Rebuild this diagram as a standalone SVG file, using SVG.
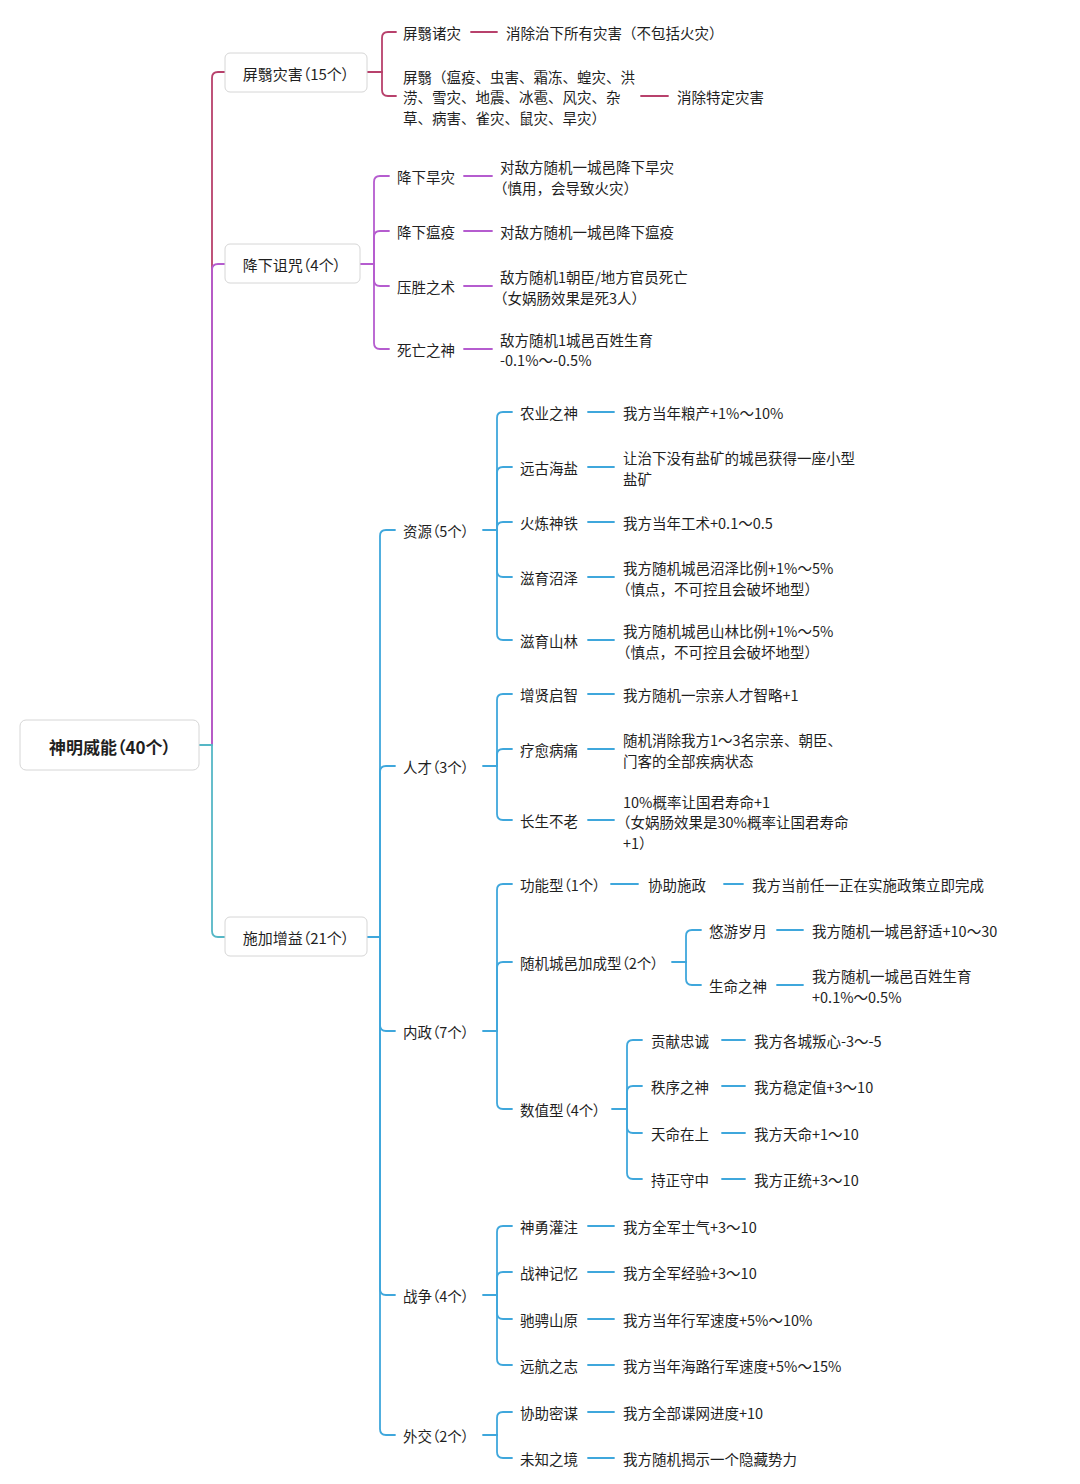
<svg xmlns="http://www.w3.org/2000/svg" width="1080" height="1484" viewBox="0 0 1080 1484">
<style>
text{font-family:"Noto Sans CJK SC","Noto Sans",sans-serif;fill:#1f1f1f;dominant-baseline:central}
.t{font-size:14.5px}
.n{font-size:14.5px;font-feature-settings:"palt"}
.l1{font-size:15px;font-feature-settings:"palt"}
.root{font-size:17px;font-weight:bold;font-feature-settings:"palt"}
.box{fill:#fff;stroke:#d6d6d6;stroke-width:1}
path{fill:none;stroke-width:1.8;stroke-linecap:round}
.c{stroke:#b8416c}
.p{stroke:#b55ccf}
.b{stroke:#3fa7dc}
.tl{stroke:#55b7c6}
</style>
<rect width="1080" height="1484" fill="#fff"/>
<g id="connectors">
<path class="c" d="M212 745 L212 78 Q212 72 218 72 L225 72"/>
<path class="p" d="M212 745 L212 270 Q212 264 218 264 L225 264"/>
<path class="tl" d="M212 745 L212 931 Q212 937 218 937 L225 937"/>
<path class="tl" d="M199 745 L212 745"/>
<path class="c" d="M367 72 L382 72"/>
<path class="c" d="M382 72 L382 38 Q382 32 388 32 L396 32"/>
<path class="c" d="M382 72 L382 90 Q382 96 388 96 L396 96"/>
<path class="c" d="M471 32 L497 32"/>
<path class="c" d="M641 96 L668 96"/>
<path class="p" d="M360 264 L374 264"/>
<path class="p" d="M374 264 L374 182 Q374 176 380 176 L389 176"/>
<path class="p" d="M374 264 L374 237 Q374 231 380 231 L389 231"/>
<path class="p" d="M374 264 L374 280 Q374 286 380 286 L389 286"/>
<path class="p" d="M374 264 L374 343 Q374 349 380 349 L389 349"/>
<path class="p" d="M464 176 L492 176"/>
<path class="p" d="M464 231 L492 231"/>
<path class="p" d="M464 286 L492 286"/>
<path class="p" d="M464 349 L492 349"/>
<path class="b" d="M367 937 L380 937"/>
<path class="b" d="M380 937 L380 536 Q380 530 386 530 L395 530"/>
<path class="b" d="M380 937 L380 772 Q380 766 386 766 L395 766"/>
<path class="b" d="M380 937 L380 1025 Q380 1031 386 1031 L395 1031"/>
<path class="b" d="M380 937 L380 1289 Q380 1295 386 1295 L395 1295"/>
<path class="b" d="M380 937 L380 1429 Q380 1435 386 1435 L395 1435"/>
<path class="b" d="M483 530 L497 530"/>
<path class="b" d="M497 530 L497 418 Q497 412 503 412 L512 412"/>
<path class="b" d="M497 530 L497 473 Q497 467 503 467 L512 467"/>
<path class="b" d="M497 530 L497 528 Q497 522 503 522 L512 522"/>
<path class="b" d="M497 530 L497 571 Q497 577 503 577 L512 577"/>
<path class="b" d="M497 530 L497 634 Q497 640 503 640 L512 640"/>
<path class="b" d="M588 412 L614 412"/>
<path class="b" d="M588 467 L614 467"/>
<path class="b" d="M588 522 L614 522"/>
<path class="b" d="M588 577 L614 577"/>
<path class="b" d="M588 640 L614 640"/>
<path class="b" d="M483 766 L497 766"/>
<path class="b" d="M497 766 L497 700 Q497 694 503 694 L512 694"/>
<path class="b" d="M497 766 L497 755 Q497 749 503 749 L512 749"/>
<path class="b" d="M497 766 L497 814 Q497 820 503 820 L512 820"/>
<path class="b" d="M588 694 L614 694"/>
<path class="b" d="M588 749 L614 749"/>
<path class="b" d="M588 820 L614 820"/>
<path class="b" d="M483 1031 L497 1031"/>
<path class="b" d="M497 1031 L497 890 Q497 884 503 884 L512 884"/>
<path class="b" d="M497 1031 L497 968 Q497 962 503 962 L512 962"/>
<path class="b" d="M497 1031 L497 1103 Q497 1109 503 1109 L512 1109"/>
<path class="b" d="M611 884 L638 884"/>
<path class="b" d="M724 884 L743 884"/>
<path class="b" d="M672 962 L686 962"/>
<path class="b" d="M686 962 L686 936 Q686 930 692 930 L701 930"/>
<path class="b" d="M686 962 L686 979 Q686 985 692 985 L701 985"/>
<path class="b" d="M777 930 L803 930"/>
<path class="b" d="M777 985 L803 985"/>
<path class="b" d="M612 1109 L627 1109"/>
<path class="b" d="M627 1109 L627 1046 Q627 1040 633 1040 L642 1040"/>
<path class="b" d="M627 1109 L627 1092 Q627 1086 633 1086 L642 1086"/>
<path class="b" d="M627 1109 L627 1127 Q627 1133 633 1133 L642 1133"/>
<path class="b" d="M627 1109 L627 1173 Q627 1179 633 1179 L642 1179"/>
<path class="b" d="M722 1040 L745 1040"/>
<path class="b" d="M722 1086 L745 1086"/>
<path class="b" d="M722 1133 L745 1133"/>
<path class="b" d="M722 1179 L745 1179"/>
<path class="b" d="M483 1295 L497 1295"/>
<path class="b" d="M497 1295 L497 1232 Q497 1226 503 1226 L512 1226"/>
<path class="b" d="M497 1295 L497 1278 Q497 1272 503 1272 L512 1272"/>
<path class="b" d="M497 1295 L497 1313 Q497 1319 503 1319 L512 1319"/>
<path class="b" d="M497 1295 L497 1359 Q497 1365 503 1365 L512 1365"/>
<path class="b" d="M588 1226 L614 1226"/>
<path class="b" d="M588 1272 L614 1272"/>
<path class="b" d="M588 1319 L614 1319"/>
<path class="b" d="M588 1365 L614 1365"/>
<path class="b" d="M483 1435 L497 1435"/>
<path class="b" d="M497 1435 L497 1418 Q497 1412 503 1412 L512 1412"/>
<path class="b" d="M497 1435 L497 1452 Q497 1458 503 1458 L512 1458"/>
<path class="b" d="M588 1412 L614 1412"/>
<path class="b" d="M588 1458 L614 1458"/>
</g>

<g id="root"><rect class="box" x="20" y="720" width="179" height="50" rx="6"/><text class="root" x="110" y="746" text-anchor="middle">神明威能（40个）</text></g>

<g id="pingyi"><rect class="box" x="225" y="53" width="142" height="39" rx="5"/><text class="l1" x="296" y="73" text-anchor="middle">屏翳灾害（15个）</text></g>
<g id="pingyi-zhuzai"><text class="n" x="403" y="32">屏翳诸灾</text></g>
<g id="pingyi-zhuzai-d"><text class="t" x="506" y="32">消除治下所有灾害（不包括火灾）</text></g>
<g id="pingyi-list"><text class="t"><tspan x="403" y="75.5">屏翳（瘟疫、虫害、霜冻、蝗灾、洪</tspan><tspan x="403" y="96">涝、雪灾、地震、冰雹、风灾、杂</tspan><tspan x="403" y="116.5">草、病害、雀灾、鼠灾、旱灾）</tspan></text></g>
<g id="pingyi-list-d"><text class="t" x="677" y="96">消除特定灾害</text></g>

<g id="curse"><rect class="box" x="225" y="244" width="135" height="39" rx="5"/><text class="l1" x="292" y="264" text-anchor="middle">降下诅咒（4个）</text></g>
<g id="curse-1"><text class="n" x="397" y="176">降下旱灾</text></g>
<g id="curse-1-d"><text class="t"><tspan x="500" y="166">对敌方随机一城邑降下旱灾</tspan><tspan x="493" y="186.5">（慎用，会导致火灾）</tspan></text></g>
<g id="curse-2"><text class="n" x="397" y="231">降下瘟疫</text></g>
<g id="curse-2-d"><text class="t" x="500" y="231">对敌方随机一城邑降下瘟疫</text></g>
<g id="curse-3"><text class="n" x="397" y="286">压胜之术</text></g>
<g id="curse-3-d"><text class="t"><tspan x="500" y="276">敌方随机1朝臣/地方官员死亡</tspan><tspan x="493" y="296.5">（女娲肠效果是死3人）</tspan></text></g>
<g id="curse-4"><text class="n" x="397" y="349">死亡之神</text></g>
<g id="curse-4-d"><text class="t"><tspan x="500" y="338.5">敌方随机1城邑百姓生育</tspan><tspan x="500" y="359">-0.1%～-0.5%</tspan></text></g>

<g id="buff"><rect class="box" x="225" y="917" width="142" height="39" rx="5"/><text class="l1" x="296" y="937" text-anchor="middle">施加增益（21个）</text></g>

<g id="res"><text class="n" x="403" y="530">资源（5个）</text></g>
<g id="res-1"><text class="n" x="520" y="412">农业之神</text></g>
<g id="res-1-d"><text class="t" x="623" y="412">我方当年粮产+1%～10%</text></g>
<g id="res-2"><text class="n" x="520" y="467">远古海盐</text></g>
<g id="res-2-d"><text class="t"><tspan x="623" y="457">让治下没有盐矿的城邑获得一座小型</tspan><tspan x="623" y="477.5">盐矿</tspan></text></g>
<g id="res-3"><text class="n" x="520" y="522">火炼神铁</text></g>
<g id="res-3-d"><text class="t" x="623" y="522">我方当年工术+0.1～0.5</text></g>
<g id="res-4"><text class="n" x="520" y="577">滋育沼泽</text></g>
<g id="res-4-d"><text class="t"><tspan x="623" y="567">我方随机城邑沼泽比例+1%～5%</tspan><tspan x="616" y="587.5">（慎点，不可控且会破坏地型）</tspan></text></g>
<g id="res-5"><text class="n" x="520" y="640">滋育山林</text></g>
<g id="res-5-d"><text class="t"><tspan x="623" y="630">我方随机城邑山林比例+1%～5%</tspan><tspan x="616" y="650.5">（慎点，不可控且会破坏地型）</tspan></text></g>

<g id="tal"><text class="n" x="403" y="766">人才（3个）</text></g>
<g id="tal-1"><text class="n" x="520" y="694">增贤启智</text></g>
<g id="tal-1-d"><text class="t" x="623" y="694">我方随机一宗亲人才智略+1</text></g>
<g id="tal-2"><text class="n" x="520" y="749">疗愈病痛</text></g>
<g id="tal-2-d"><text class="t"><tspan x="623" y="739">随机消除我方1～3名宗亲、朝臣、</tspan><tspan x="623" y="759.5">门客的全部疾病状态</tspan></text></g>
<g id="tal-3"><text class="n" x="520" y="820">长生不老</text></g>
<g id="tal-3-d"><text class="t"><tspan x="623" y="800.5">10%概率让国君寿命+1</tspan><tspan x="616" y="821">（女娲肠效果是30%概率让国君寿命</tspan><tspan x="623" y="841.5">+1）</tspan></text></g>

<g id="gov"><text class="n" x="403" y="1031">内政（7个）</text></g>
<g id="gov-func"><text class="n" x="520" y="884">功能型（1个）</text></g>
<g id="gov-func-1"><text class="n" x="648" y="884">协助施政</text></g>
<g id="gov-func-1-d"><text class="t" x="752" y="884">我方当前任一正在实施政策立即完成</text></g>
<g id="gov-city"><text class="n" x="520" y="962">随机城邑加成型（2个）</text></g>
<g id="gov-city-1"><text class="n" x="709" y="930">悠游岁月</text></g>
<g id="gov-city-1-d"><text class="t" x="812" y="930">我方随机一城邑舒适+10～30</text></g>
<g id="gov-city-2"><text class="n" x="709" y="985">生命之神</text></g>
<g id="gov-city-2-d"><text class="t"><tspan x="812" y="975">我方随机一城邑百姓生育</tspan><tspan x="812" y="995.5">+0.1%～0.5%</tspan></text></g>
<g id="gov-num"><text class="n" x="520" y="1109">数值型（4个）</text></g>
<g id="gov-num-1"><text class="n" x="651" y="1040">贡献忠诚</text></g>
<g id="gov-num-1-d"><text class="t" x="754" y="1040">我方各城叛心-3～-5</text></g>
<g id="gov-num-2"><text class="n" x="651" y="1086">秩序之神</text></g>
<g id="gov-num-2-d"><text class="t" x="754" y="1086">我方稳定值+3～10</text></g>
<g id="gov-num-3"><text class="n" x="651" y="1133">天命在上</text></g>
<g id="gov-num-3-d"><text class="t" x="754" y="1133">我方天命+1～10</text></g>
<g id="gov-num-4"><text class="n" x="651" y="1179">持正守中</text></g>
<g id="gov-num-4-d"><text class="t" x="754" y="1179">我方正统+3～10</text></g>

<g id="war"><text class="n" x="403" y="1295">战争（4个）</text></g>
<g id="war-1"><text class="n" x="520" y="1226">神勇灌注</text></g>
<g id="war-1-d"><text class="t" x="623" y="1226">我方全军士气+3～10</text></g>
<g id="war-2"><text class="n" x="520" y="1272">战神记忆</text></g>
<g id="war-2-d"><text class="t" x="623" y="1272">我方全军经验+3～10</text></g>
<g id="war-3"><text class="n" x="520" y="1319">驰骋山原</text></g>
<g id="war-3-d"><text class="t" x="623" y="1319">我方当年行军速度+5%～10%</text></g>
<g id="war-4"><text class="n" x="520" y="1365">远航之志</text></g>
<g id="war-4-d"><text class="t" x="623" y="1365">我方当年海路行军速度+5%～15%</text></g>

<g id="dip"><text class="n" x="403" y="1435">外交（2个）</text></g>
<g id="dip-1"><text class="n" x="520" y="1412">协助密谋</text></g>
<g id="dip-1-d"><text class="t" x="623" y="1412">我方全部谍网进度+10</text></g>
<g id="dip-2"><text class="n" x="520" y="1458">未知之境</text></g>
<g id="dip-2-d"><text class="t" x="623" y="1458">我方随机揭示一个隐藏势力</text></g>
</svg>
